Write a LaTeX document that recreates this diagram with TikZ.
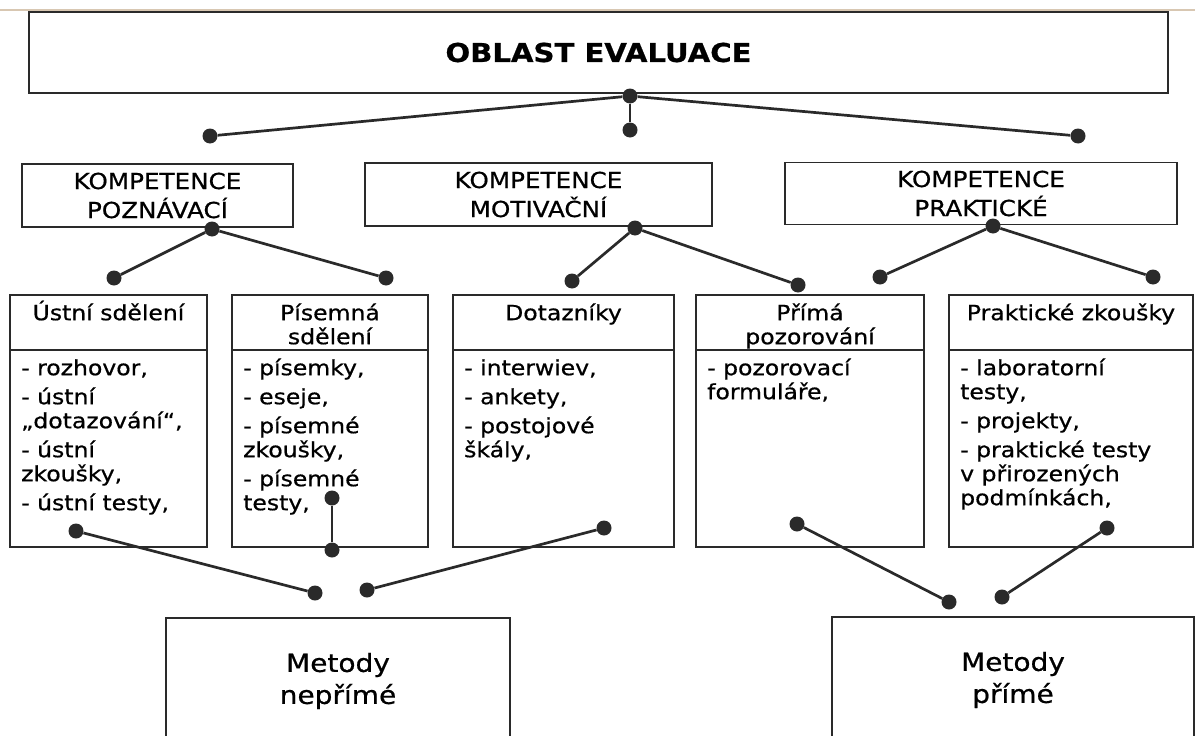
\documentclass[tikz,border=0pt]{standalone}
\usepackage{fontspec}
\setmainfont[FakeStretch=1.12, FakeBold=0.7]{DejaVu Sans}
\usetikzlibrary{positioning}
\definecolor{inkgray}{HTML}{2A2A2A}
\definecolor{scanedge}{HTML}{D8C7B2}
\newcommand{\tallstrut}{\rule{0pt}{20pt}}

\tikzset{
  boxline/.style={draw=inkgray, line width=1.8pt, inner sep=0pt, outer sep=0pt},
  headbox/.style={boxline, minimum height=55pt},
  bodybox/.style={boxline, minimum height=197pt},
  knot/.style={circle, fill=inkgray, inner sep=0pt, minimum size=15pt},
  wire/.style={draw=inkgray, line width=2.7pt},
  smalltext/.style={inner sep=0pt, font=\fontsize{21}{24}\selectfont}
}

\begin{document}
\begin{tikzpicture}[x=1pt, y=-1pt]
\useasboundingbox (0,0) rectangle (1195,736);
\draw[scanedge, line width=1.2pt] (0,10) -- (1195,10);

% Top box
\node[boxline, minimum width=1139pt, minimum height=81pt, font=\fontsize{26}{30}\selectfont\bfseries] (oblast) at (598.5,52.5) {OBLAST EVALUACE};

% Competences
\node[boxline, minimum width=271pt, minimum height=63pt, align=center, font=\fontsize{22}{29}\selectfont] (kpoz) at (157.5,195.5) {KOMPETENCE\\POZNÁVACÍ};
\node[boxline, minimum width=347pt, minimum height=63pt, align=center, font=\fontsize{22}{29}\selectfont] (kmot) at (538.5,194.5) {KOMPETENCE\\MOTIVAČNÍ};
\node[boxline, minimum width=392pt, minimum height=62pt, align=center, font=\fontsize{22}{29}\selectfont] (kprak) at (981,193.5) {KOMPETENCE\\PRAKTICKÉ};

% Method columns: head + body
\node[headbox, minimum width=197pt] (ust) at (108.5,322.5) {};
\node[bodybox, minimum width=197pt, below=0pt of ust] (ust-b) {};
\node[headbox, minimum width=196pt] (pis) at (330,322.5) {};
\node[bodybox, minimum width=196pt, below=0pt of pis] (pis-b) {};
\node[headbox, minimum width=221pt] (dot) at (563.5,322.5) {};
\node[bodybox, minimum width=221pt, below=0pt of dot] (dot-b) {};
\node[headbox, minimum width=228pt] (pri) at (810,322.5) {};
\node[bodybox, minimum width=228pt, below=0pt of pri] (pri-b) {};
\node[headbox, minimum width=244pt] (pra) at (1071,322.5) {};
\node[bodybox, minimum width=244pt, below=0pt of pra] (pra-b) {};

% Column titles
\node[smalltext, align=center, below=5pt of ust.north] (ust-t) {\tallstrut Ústní sdělení};
\node[smalltext, align=center, below=5pt of pis.north] (pis-t) {\tallstrut Písemná\\sdělení};
\node[smalltext, align=center, below=5pt of dot.north] (dot-t) {\tallstrut Dotazníky};
\node[smalltext, align=center, below=5pt of pri.north] (pri-t) {\tallstrut Přímá\\pozorování};
\node[smalltext, align=center, below=5pt of pra.north] (pra-t) {\tallstrut Praktické zkoušky};

% Column items
\node[smalltext, align=left, below right=5pt and 11pt of ust-b.north west] (ust-i) {\tallstrut- rozhovor,\\[5pt]- ústní\\„dotazování“,\\[5pt]- ústní\\zkoušky,\\[5pt]- ústní testy,};
\node[smalltext, align=left, below right=5pt and 11pt of pis-b.north west] (pis-i) {\tallstrut- písemky,\\[5pt]- eseje,\\[5pt]- písemné\\zkoušky,\\[5pt]- písemné\\testy,};
\node[smalltext, align=left, below right=5pt and 11pt of dot-b.north west] (dot-i) {\tallstrut- interwiev,\\[5pt]- ankety,\\[5pt]- postojové\\škály,};
\node[smalltext, align=left, below right=5pt and 11pt of pri-b.north west] (pri-i) {\tallstrut- pozorovací\\formuláře,};
\node[smalltext, align=left, below right=5pt and 11pt of pra-b.north west] (pra-i) {\tallstrut- laboratorní\\testy,\\[5pt]- projekty,\\[5pt]- praktické testy\\v přirozených\\podmínkách,};

% Method boxes (cut by the page edge)
\node[boxline, minimum width=344pt, minimum height=126pt, align=center, font=\fontsize{25}{32}\selectfont] (neprime) at (338,681) {Metody\\nepřímé};
\node[boxline, minimum width=362pt, minimum height=126pt, align=center, font=\fontsize{25}{32}\selectfont] (prime) at (1013,680) {Metody\\přímé};

% Knots
\node[knot] (d0) at (630,96) {};
\node[knot] (d1) at (210,136) {};
\node[knot] (d2) at (630,130) {};
\node[knot] (d3) at (1078,136) {};
\node[knot] (j1) at (212,229) {};
\node[knot] (j1a) at (114,278) {};
\node[knot] (j1b) at (386,278) {};
\node[knot] (j2) at (635,228) {};
\node[knot] (j2a) at (572,281) {};
\node[knot] (j2b) at (798,285) {};
\node[knot] (j3) at (993,226) {};
\node[knot] (j3a) at (880,277) {};
\node[knot] (j3b) at (1153,277) {};
\node[knot] (u1) at (76,531) {};
\node[knot] (p1) at (332,498) {};
\node[knot] (p2) at (332,550) {};
\node[knot] (q1) at (604,528) {};
\node[knot] (r1) at (797,524) {};
\node[knot] (s1) at (1107,528) {};
\node[knot] (n1) at (315,593) {};
\node[knot] (n2) at (367,590) {};
\node[knot] (m1) at (949,602) {};
\node[knot] (m2) at (1002,597) {};

% Connectors
\draw[wire] (d0) -- (d1);
\draw[wire] (d0) -- (d2);
\draw[wire] (d0) -- (d3);
\draw[wire] (j1) -- (j1a);
\draw[wire] (j1) -- (j1b);
\draw[wire] (j2) -- (j2a);
\draw[wire] (j2) -- (j2b);
\draw[wire] (j3) -- (j3a);
\draw[wire] (j3) -- (j3b);
\draw[wire] (u1) -- (n1);
\draw[wire] (p1) -- (p2);
\draw[wire] (q1) -- (n2);
\draw[wire] (r1) -- (m1);
\draw[wire] (s1) -- (m2);
\end{tikzpicture}
\end{document}
